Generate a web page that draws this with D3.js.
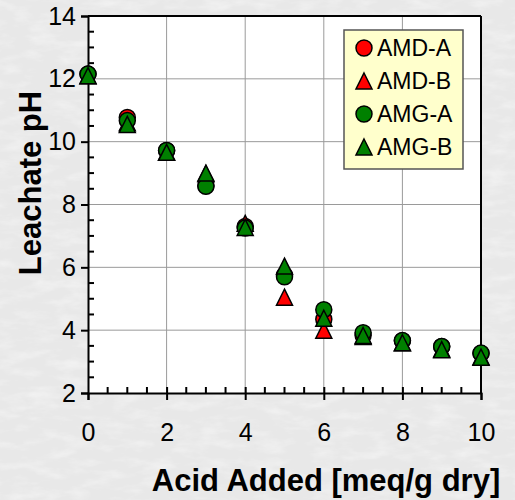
<!DOCTYPE html>
<html>
<head>
<meta charset="utf-8">
<script src="https://cdn.jsdelivr.net/npm/d3@7"></script>
<style>
  html, body { margin: 0; padding: 0; background: #eeeeee; }
  svg { display: block; }
</style>
</head>
<body>
<script>
// Acid added (meq/g dry) at each titration step
const acidAdded = [0, 1, 2, 3, 4, 5, 6, 7, 8, 9, 10];

// Leachate pH for each sample
const amdA = [12.15, 10.77, 9.72, 8.6, 7.3, 5.75, 4.35, 3.84, 3.66, 3.48, 3.26];
const amdB = [12.1, 10.6, 9.67, 8.98, 7.4, 5.05, 4.0, 3.8, 3.6, 3.4, 3.15];
const amgA = [12.15, 10.67, 9.72, 8.58, 7.25, 5.7, 4.65, 3.92, 3.67, 3.48, 3.27];
const amgB = [12.1, 10.55, 9.66, 9.0, 7.27, 6.04, 4.38, 3.83, 3.6, 3.38, 3.14];

const seriesNames = ["AMD-A", "AMD-B", "AMG-A", "AMG-B"];
const seriesValues = [amdA, amdB, amgA, amgB];
const seriesColors = ["#ff0000", "#ff0000", "#008000", "#008000"];
const seriesShapes = ["circle", "triangle", "circle", "triangle"];

const xTicks = [0, 2, 4, 6, 8, 10];
const yTicks = [2, 4, 6, 8, 10, 12, 14];

const W = 515, H = 500;
const plot = { left: 88, right: 481, top: 16, bottom: 393 };
const FONT = "'Liberation Sans', Arial, sans-serif";

const svg = d3.select("body").append("svg")
  .attr("width", W).attr("height", H);

// Paper-like mottled background
const defs = svg.append("defs");
const tex = defs.append("filter").attr("id", "paper")
  .attr("x", 0).attr("y", 0).attr("width", "100%").attr("height", "100%");
tex.append("feTurbulence").attr("type", "fractalNoise")
  .attr("baseFrequency", "0.035 0.1").attr("numOctaves", 4).attr("seed", 7);
tex.append("feColorMatrix").attr("type", "matrix")
  .attr("values", "0 0 0 0 1  0 0 0 0 1  0 0 0 0 1  0 0 0 -0.9 0.5");
svg.append("rect").attr("width", W).attr("height", H).attr("fill", "#e8e8e8");
svg.append("rect").attr("width", W).attr("height", H).attr("filter", "url(#paper)");

const x = d3.scaleLinear().domain([0, 10]).range([plot.left, plot.right]);
const y = d3.scaleLinear().domain([2, 14]).range([plot.bottom, plot.top]);

// Plot area
svg.append("rect")
  .attr("x", plot.left).attr("y", plot.top)
  .attr("width", plot.right - plot.left).attr("height", plot.bottom - plot.top)
  .attr("fill", "#ffffff");

// Gridlines
svg.append("g")
  .selectAll("line").data(xTicks.filter(d => d > 0 && d < 10)).join("line")
  .attr("x1", d => x(d)).attr("x2", d => x(d))
  .attr("y1", plot.top).attr("y2", plot.bottom)
  .attr("stroke", "#9a9a9a").attr("stroke-width", 1);
svg.append("g")
  .selectAll("line").data(yTicks.filter(d => d > 2 && d < 14)).join("line")
  .attr("x1", plot.left).attr("x2", plot.right)
  .attr("y1", d => y(d)).attr("y2", d => y(d))
  .attr("stroke", "#9a9a9a").attr("stroke-width", 1);

// Frame: top and right borders
svg.append("line").attr("x1", plot.left).attr("x2", plot.right)
  .attr("y1", plot.top).attr("y2", plot.top)
  .attr("stroke", "#000").attr("stroke-width", 2);
svg.append("line").attr("x1", plot.right).attr("x2", plot.right)
  .attr("y1", plot.top).attr("y2", plot.bottom)
  .attr("stroke", "#000").attr("stroke-width", 2);

// Y axis with outward major ticks
const yAxis = d3.axisLeft(y).tickValues(yTicks).tickSize(7).tickPadding(5)
  .tickFormat(d3.format("d"));
const gy = svg.append("g").attr("transform", `translate(${plot.left},0)`).call(yAxis);
gy.select(".domain").attr("stroke", "#000").attr("stroke-width", 2);
gy.selectAll(".tick line").attr("stroke", "#000").attr("stroke-width", 2);
gy.selectAll(".tick text")
  .attr("font-family", FONT).attr("font-size", 25).attr("fill", "#000");
// Y minor ticks pointing inward
gy.append("g").selectAll("line").data(d3.range(2.5, 14, 0.5).filter(v => v % 2 !== 0))
  .join("line")
  .attr("x1", 0).attr("x2", 6)
  .attr("y1", d => y(d)).attr("y2", d => y(d))
  .attr("stroke", "#000").attr("stroke-width", 2);

// X axis with crossing major ticks
const xAxis = d3.axisBottom(x).tickValues(xTicks).tickSize(7).tickPadding(23)
  .tickFormat(d3.format("d"));
const gx = svg.append("g").attr("transform", `translate(0,${plot.bottom})`).call(xAxis);
gx.select(".domain").attr("stroke", "#000").attr("stroke-width", 2);
gx.selectAll(".tick line").attr("stroke", "#000").attr("stroke-width", 2)
  .attr("y1", d => (d > 0 && d < 10) ? -6 : 0);
gx.selectAll(".tick text")
  .attr("font-family", FONT).attr("font-size", 25).attr("fill", "#000");
// X minor ticks pointing inward
gx.append("g").selectAll("line").data(d3.range(0.5, 10, 0.5).filter(v => v % 2 !== 0))
  .join("line")
  .attr("x1", d => x(d)).attr("x2", d => x(d))
  .attr("y1", 0).attr("y2", -6)
  .attr("stroke", "#000").attr("stroke-width", 2);

// Marker shapes
const R = 8;
function markerPath(shape) {
  const p = d3.path();
  if (shape === "circle") {
    p.moveTo(R, 0);
    p.arc(0, 0, R, 0, 2 * Math.PI);
    p.closePath();
  } else {
    p.moveTo(0, -R); p.lineTo(R, R); p.lineTo(-R, R); p.closePath();
  }
  return p.toString();
}

// Data points
seriesValues.forEach((vals, i) => {
  svg.append("g").selectAll("path").data(vals).join("path")
    .attr("d", markerPath(seriesShapes[i]))
    .attr("transform", (v, j) => `translate(${x(acidAdded[j])},${y(v)})`)
    .attr("fill", seriesColors[i])
    .attr("stroke", "#000").attr("stroke-width", 1.5);
});

// Legend
const lg = svg.append("g");
lg.append("rect").attr("x", 344).attr("y", 30).attr("width", 119).attr("height", 139)
  .attr("fill", "#ffffcc").attr("stroke", "#555").attr("stroke-width", 1.5);
seriesNames.forEach((name, i) => {
  const cy = 48 + i * 33;
  lg.append("path").attr("d", markerPath(seriesShapes[i]))
    .attr("transform", `translate(364,${cy})`)
    .attr("fill", seriesColors[i]).attr("stroke", "#000").attr("stroke-width", 1.5);
  lg.append("text").attr("x", 377).attr("y", cy + 8)
    .attr("font-family", FONT).attr("font-size", 23).attr("fill", "#000").text(name);
});

// Axis titles
svg.append("text")
  .attr("x", 326).attr("y", 491).attr("text-anchor", "middle")
  .attr("font-family", FONT)
  .attr("font-weight", "bold").attr("font-size", 31).attr("fill", "#000")
  .text("Acid Added [meq/g dry]");
svg.append("text")
  .attr("transform", "translate(41,183) rotate(-90)").attr("text-anchor", "middle")
  .attr("font-family", FONT)
  .attr("font-weight", "bold").attr("font-size", 31).attr("fill", "#000")
  .text("Leachate pH");
</script>
</body>
</html>
